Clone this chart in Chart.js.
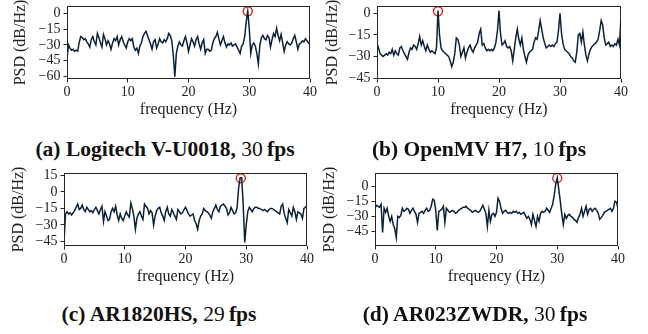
<!DOCTYPE html>
<html><head><meta charset="utf-8">
<script src="https://cdn.jsdelivr.net/npm/chart.js@4.4.1/dist/chart.umd.min.js"></script>
<style>
body{margin:0;width:648px;height:334px;background:#fff;position:relative;overflow:hidden;font-family:"Liberation Serif",serif}
canvas{position:absolute}
.cap{position:absolute;font-size:21.5px;white-space:nowrap;transform:translate(-50%,-50%);color:#111;font-weight:bold}
.cap .n{font-weight:normal}
</style></head><body>
<canvas id="ca" width="324" height="125" style="left:0px;top:0px"></canvas>
<canvas id="cb" width="334" height="125" style="left:314px;top:0px"></canvas>
<canvas id="cc" width="324" height="125" style="left:0px;top:167px"></canvas>
<canvas id="cd" width="334" height="125" style="left:314px;top:167px"></canvas>
<div class="cap" style="left:165px;top:149px">(a) Logitech V-U0018, <span class="n">30</span>&#8201;fps</div>
<div class="cap" style="left:479px;top:149px">(b) OpenMV H7, <span class="n">10</span>&#8201;fps</div>
<div class="cap" style="left:159px;top:314px">(c) AR1820HS, <span class="n">29</span>&#8201;fps</div>
<div class="cap" style="left:475px;top:314px">(d) AR023ZWDR, <span class="n">30</span>&#8201;fps</div>
<script>
// ---- data ----
const freqStep = 0.25;
const freqHz = Array.from({length: 161}, (_, i) => i * freqStep);
const xTicks = [0, 10, 20, 30, 40];

const psdA = [
-43,-30,-33,-35,-34,-36,-35,-36,
-28,-22,-23,-25,-24,-27,-29,-32,
-25,-22,-27,-30,-19,-23,-28,-32,
-20,-24,-30,-26,-29,-34,-28,-24,
-26,-22,-30,-25,-22,-27,-30,-33,
-27,-24,-26,-24,-32,-35,-33,-38,
-31,-28,-22,-19,-17,-21,-25,-29,
-34,-27,-25,-33,-29,-24,-27,-28,
-25,-27,-24,-19,-21,-26,-40,-60,
-38,-31,-27,-30,-31,-26,-22,-28,
-36,-30,-24,-27,-31,-25,-22,-29,
-34,-28,-25,-38,-34,-34,-36,-35,
-28,-24,-22,-18,-24,-30,-26,-22,
-28,-32,-29,-30,-28,-31,-30,-29,
-32,-35,-38,-31,-29,-22,-8,2,
-14,-38,-30,-28,-31,-38,-48,-30,
-23,-21,-24,-25,-21,-23,-32,-25,
-19,-22,-14,-21,-26,-20,-28,-36,
-30,-27,-29,-30,-28,-24,-21,-27,
-34,-29,-28,-26,-27,-24,-26,-28,
-30];
const psdB = [
-21,-24,-28,-29,-30,-29,-28,-29,
-27,-28,-25,-29,-26,-28,-29,-24,
-23,-26,-28,-30,-32,-27,-24,-25,
-22,-23,-25,-21,-16,-22,-19,-23,
-26,-22,-25,-27,-26,-27,-28,-24,
2,-15,-24,-26,-27,-28,-29,-30,
-33,-37,-34,-28,-17,-18,-22,-30,
-27,-24,-31,-27,-24,-22,-25,-27,
-24,-22,-20,-14,-11,-22,-21,-24,
-26,-25,-26,-25,-26,-24,-20,-12,
2,-14,-22,-21,-19,-23,-24,-23,
-26,-33,-25,-17,-11,-18,-22,-17,
-25,-30,-34,-29,-27,-26,-25,-20,
-17,-18,-12,-5,-11,-17,-21,-24,
-23,-22,-23,-22,-23,-21,-20,-12,
0,-14,-21,-25,-26,-27,-28,-30,
-31,-33,-34,-27,-15,-14,-20,-13,
-22,-29,-33,-28,-25,-23,-22,-21,
-20,-18,-12,-5,-8,-17,-22,-21,
-20,-23,-22,-23,-21,-22,-18,-22,
-2];
const psdC = [
-45,-20,-18,-20,-19,-21,-19,-17,
-14,-11,-16,-15,-12,-16,-18,-14,
-16,-18,-17,-19,-16,-14,-17,-20,
-16,-13,-27,-18,-22,-26,-25,-18,
-15,-18,-13,-21,-26,-20,-24,-26,
-22,-18,-21,-23,-10,-15,-22,-34,
-24,-20,-18,-22,-25,-11,-13,-15,
-20,-17,-19,-30,-22,-17,-15,-14,
-19,-22,-26,-18,-14,-20,-22,-16,
-19,-22,-25,-16,-18,-20,-19,-16,
-14,-17,-20,-22,-21,-20,-26,-29,
-34,-26,-22,-20,-15,-17,-18,-19,
-21,-24,-18,-15,-12,-16,-18,-13,
-12,-11,-13,-15,-21,-19,-14,-17,
-20,-19,-14,4,13,13,-12,-46,
-30,-18,-14,-16,-18,-15,-14,-14,
-15,-15,-16,-17,-16,-17,-18,-16,
-15,-15,-16,-17,-18,-19,-20,-13,
-11,-20,-24,-28,-16,-19,-22,-14,
-18,-25,-18,-19,-20,-24,-15,-14,
-12];
const psdD = [
-22,-19,-20,-21,-18,-46,-22,-26,
-22,-30,-35,-30,-38,-42,-51,-30,
-31,-29,-22,-25,-24,-22,-23,-27,
-24,-22,-25,-28,-36,-27,-26,-25,
-27,-24,-22,-25,-24,-20,-13,-14,
-24,-44,-25,-24,-23,-20,-36,-22,
-24,-26,-25,-24,-25,-27,-26,-24,
-23,-22,-21,-21,-20,-22,-23,-24,
-26,-25,-24,-25,-26,-25,-22,-19,
-23,-27,-40,-24,-35,-28,-27,-30,
-26,-12,-15,-22,-27,-25,-24,-26,
-27,-26,-27,-25,-26,-25,-27,-26,
-28,-27,-26,-29,-32,-30,-33,-38,
-28,-34,-40,-30,-35,-27,-25,-26,
-25,-22,-24,-26,-22,-18,-9,2,
8,-3,-15,-28,-38,-28,-32,-29,
-28,-30,-31,-33,-34,-36,-31,-28,
-22,-30,-25,-20,-28,-23,-22,-25,
-23,-22,-24,-27,-33,-31,-29,-26,
-25,-24,-23,-22,-25,-22,-15,-16,
-22];

const peakFreq = [29.75, 10.0, 29.1, 30.0];
const peakPsd  = [2, 1.5, 12.5, 7.8];

const yTicksA = [0, -15, -30, -45, -60];
const yTicksB = [0, -15, -30, -45];
const yTicksC = [15, 0, -15, -30, -45];
const yTicksD = [0, -15, -30, -45];

const yRangeA = [-62.3, 7.1];
const yRangeB = [-45.6, 5.2];
const yRangeC = [-49.2, 17.3];
const yRangeD = [-59.3, 13];

// ---- layout (pixels) ----
const panels = [
  {id:'ca', psd:psdA, yt:yTicksA, yr:yRangeA, pk:0, yW:67, padT:1, padR:14, yTitlePad:11},
  {id:'cb', psd:psdB, yt:yTicksB, yr:yRangeB, pk:1, yW:63, padT:1, padR:27, yTitlePad:9},
  {id:'cc', psd:psdC, yt:yTicksC, yr:yRangeC, pk:2, yW:64, padT:5, padR:17, yTitlePad:9},
  {id:'cd', psd:psdD, yt:yTicksD, yr:yRangeD, pk:3, yW:61, padT:2, padR:30, yTitlePad:6},
];
const X_H = 46;
const AX = '#262626';
const fmt = v => String(v).replace('-', '\u2212');

const framePlugin = {
  id: 'frame',
  afterDatasetsDraw(chart) {
    const a = chart.chartArea, c = chart.ctx;
    c.save();
    c.strokeStyle = AX; c.lineWidth = 1;
    c.strokeRect(Math.round(a.left) + 0.5, Math.round(a.top) + 0.5,
                 Math.round(a.right - a.left) - 1, Math.round(a.bottom - a.top) - 1);
    c.restore();
  }
};

panels.forEach(p => {
  new Chart(document.getElementById(p.id), {
    type: 'line',
    data: {
      datasets: [
        {
          data: freqHz.map((f, i) => ({x: f, y: p.psd[i]})),
          borderColor: '#0d2239', borderWidth: 1.5, pointRadius: 0,
          tension: 0, fill: false
        },
        {
          type: 'scatter',
          data: [{x: peakFreq[p.pk], y: peakPsd[p.pk]}],
          pointRadius: 4.5, pointStyle: 'circle',
          borderColor: '#e3201b', borderWidth: 1.4,
          backgroundColor: 'rgba(0,0,0,0)'
        }
      ]
    },
    options: {
      responsive: false, animation: false, devicePixelRatio: 1,
      layout: {padding: {left: 0, top: p.padT, right: p.padR, bottom: 0}},
      plugins: {legend: {display: false}, tooltip: {enabled: false}},
      scales: {
        x: {
          type: 'linear', min: 0, max: 40,
          afterBuildTicks: s => { s.ticks = xTicks.map(v => ({value: v})); },
          afterFit: s => { s.height = X_H; },
          border: {display: false},
          grid: {display: true, drawOnChartArea: false, drawTicks: true, tickLength: 3.5, color: AX},
          ticks: {autoSkip: false, color: '#222', padding: 1, maxRotation: 0, font: {family: 'Liberation Serif', size: 14}, callback: v => fmt(v)},
          title: {display: true, text: 'frequency (Hz)', color: '#222', padding: {top: 0, bottom: 6},
                  font: {family: 'Liberation Serif', size: 16}}
        },
        y: {
          type: 'linear', min: p.yr[0], max: p.yr[1],
          afterBuildTicks: s => { s.ticks = p.yt.map(v => ({value: v})); },
          afterFit: s => { s.width = p.yW; s.paddingTop = 0; s.paddingBottom = 0; },
          border: {display: false},
          grid: {display: true, drawOnChartArea: false, drawTicks: true, tickLength: 3.5, color: AX},
          ticks: {autoSkip: false, color: '#222', padding: 3, font: {family: 'Liberation Serif', size: 14}, callback: v => fmt(v)},
          title: {display: true, text: 'PSD (dB/Hz)', color: '#222', padding: {top: p.yTitlePad, bottom: 0},
                  font: {family: 'Liberation Serif', size: 16}}
        }
      }
    },
    plugins: [framePlugin]
  });
});
</script>
</body></html>
